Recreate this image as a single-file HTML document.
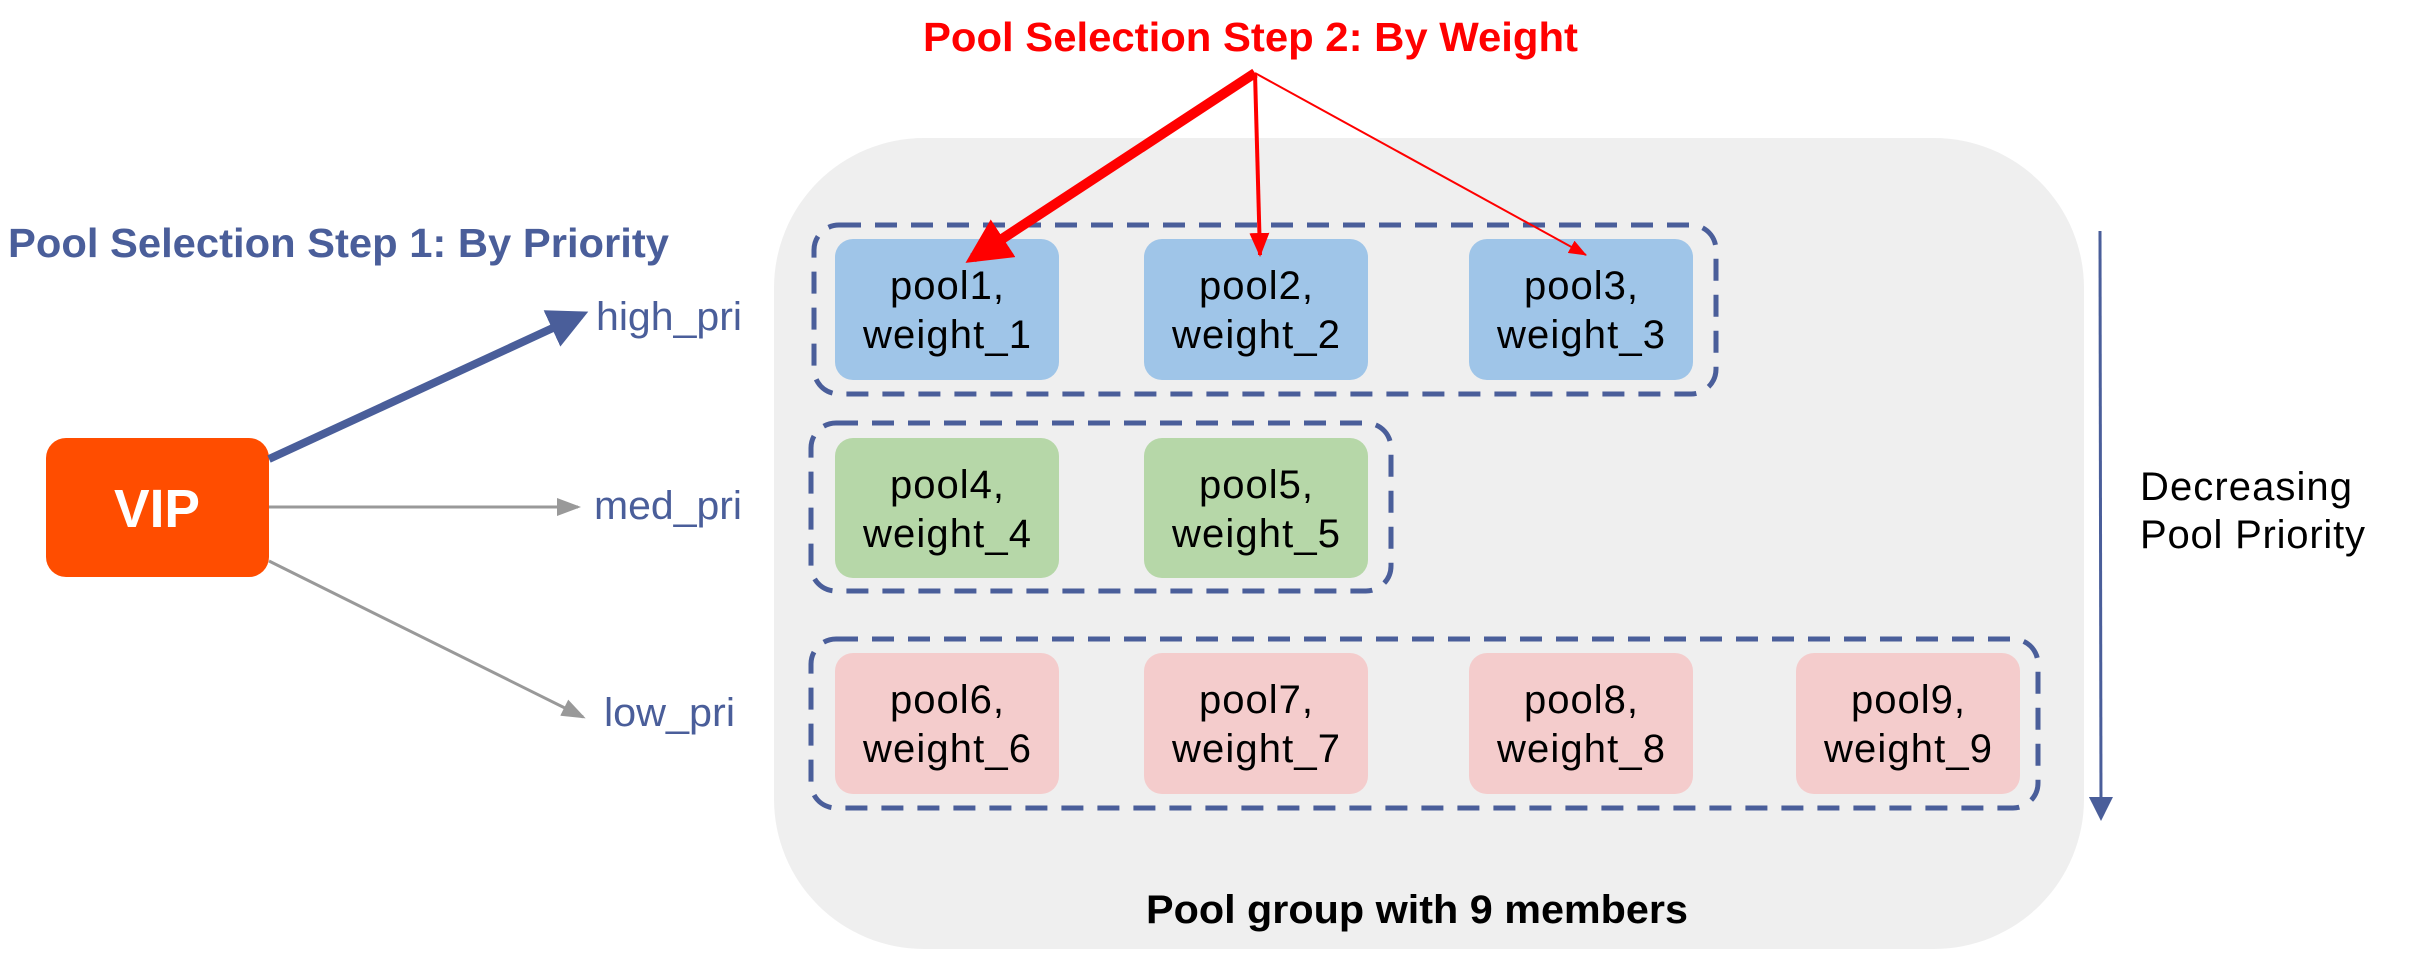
<!DOCTYPE html>
<html><head><meta charset="utf-8"><style>html,body{margin:0;padding:0;background:#fff}svg{display:block}</style></head>
<body>
<svg width="2410" height="954" viewBox="0 0 2410 954" xmlns="http://www.w3.org/2000/svg" font-family="Liberation Sans, Arial, sans-serif">
<defs>
<marker id="hb" markerWidth="5" markerHeight="5" refX="4" refY="2.5" orient="auto" markerUnits="strokeWidth"><path d="M0,0 L5,2.5 L0,5 Z" fill="#4A5E9A"/></marker>
<marker id="hg" markerWidth="8" markerHeight="6" refX="7" refY="3" orient="auto" markerUnits="strokeWidth"><path d="M0,0 L8,3 L0,6 Z" fill="#999"/></marker>
<marker id="hr" markerWidth="4.5" markerHeight="4.5" refX="3.6" refY="2.25" orient="auto" markerUnits="strokeWidth"><path d="M0,0 L4.5,2.25 L0,4.5 Z" fill="#FF0000"/></marker>
<marker id="hr2" markerWidth="6" markerHeight="5" refX="5.5" refY="2.5" orient="auto" markerUnits="strokeWidth"><path d="M0,0 L6,2.5 L0,5 Z" fill="#FF0000"/></marker>
<marker id="hr3" markerWidth="9" markerHeight="7" refX="8.5" refY="3.5" orient="auto" markerUnits="strokeWidth"><path d="M0,0 L9,3.5 L0,7 Z" fill="#FF0000"/></marker>
<marker id="hv" markerWidth="8" markerHeight="8" refX="7" refY="4" orient="auto" markerUnits="strokeWidth"><path d="M0,0 L8,4 L0,8 Z" fill="#4A5E9A"/></marker>
</defs>

<rect x="774" y="138" width="1310" height="811" rx="150" fill="#EFEFEF"/>

<text x="8" y="257" font-size="41" font-weight="bold" fill="#4A5E9A" textLength="661" lengthAdjust="spacingAndGlyphs">Pool Selection Step 1: By Priority</text>
<text x="923" y="51" font-size="41" font-weight="bold" fill="#FF0000" textLength="655" lengthAdjust="spacingAndGlyphs">Pool Selection Step 2: By Weight</text>

<rect x="46" y="438" width="223" height="139" rx="20" fill="#FF4D00"/>
<text x="157" y="527" font-size="54" font-weight="bold" fill="#fff" text-anchor="middle" textLength="86" lengthAdjust="spacingAndGlyphs">VIP</text>

<line x1="269" y1="459" x2="581" y2="315" stroke="#4A5E9A" stroke-width="8" marker-end="url(#hb)"/>
<line x1="269" y1="507" x2="578" y2="507" stroke="#999" stroke-width="3" marker-end="url(#hg)"/>
<line x1="269" y1="561" x2="583" y2="717" stroke="#999" stroke-width="3" marker-end="url(#hg)"/>

<g font-size="40" fill="#4A5E9A">
<text x="596" y="330" textLength="146" lengthAdjust="spacingAndGlyphs">high_pri</text>
<text x="594" y="519" textLength="148" lengthAdjust="spacingAndGlyphs">med_pri</text>
<text x="604" y="726" textLength="131" lengthAdjust="spacingAndGlyphs">low_pri</text>
</g>

<g fill="none" stroke="#4A5E9A" stroke-width="5" stroke-dasharray="22,14">
<rect x="814" y="225" width="902" height="169" rx="25"/>
<rect x="811" y="423" width="580" height="168" rx="25"/>
<rect x="811" y="639" width="1227" height="169" rx="25"/>
</g>

<g>
<rect x="835" y="239" width="224" height="141" rx="18" fill="#9FC5E8"/>
<rect x="1144" y="239" width="224" height="141" rx="18" fill="#9FC5E8"/>
<rect x="1469" y="239" width="224" height="141" rx="18" fill="#9FC5E8"/>
<rect x="835" y="438" width="224" height="140" rx="18" fill="#B6D7A8"/>
<rect x="1144" y="438" width="224" height="140" rx="18" fill="#B6D7A8"/>
<rect x="835" y="653" width="224" height="141" rx="18" fill="#F4CCCC"/>
<rect x="1144" y="653" width="224" height="141" rx="18" fill="#F4CCCC"/>
<rect x="1469" y="653" width="224" height="141" rx="18" fill="#F4CCCC"/>
<rect x="1796" y="653" width="224" height="141" rx="18" fill="#F4CCCC"/>
</g>
<g font-size="40" fill="#000" text-anchor="middle" lengthAdjust="spacingAndGlyphs">
<text x="947" y="299" textLength="114">pool1,</text><text x="947" y="348" textLength="168">weight_1</text>
<text x="1256" y="299" textLength="114">pool2,</text><text x="1256" y="348" textLength="168">weight_2</text>
<text x="1581" y="299" textLength="114">pool3,</text><text x="1581" y="348" textLength="168">weight_3</text>
<text x="947" y="498" textLength="114">pool4,</text><text x="947" y="547" textLength="168">weight_4</text>
<text x="1256" y="498" textLength="114">pool5,</text><text x="1256" y="547" textLength="168">weight_5</text>
<text x="947" y="713" textLength="114">pool6,</text><text x="947" y="762" textLength="168">weight_6</text>
<text x="1256" y="713" textLength="114">pool7,</text><text x="1256" y="762" textLength="168">weight_7</text>
<text x="1581" y="713" textLength="114">pool8,</text><text x="1581" y="762" textLength="168">weight_8</text>
<text x="1908" y="713" textLength="114">pool9,</text><text x="1908" y="762" textLength="168">weight_9</text>
</g>

<line x1="1255" y1="73" x2="973" y2="258" stroke="#FF0000" stroke-width="10" marker-end="url(#hr)"/>
<line x1="1255" y1="73" x2="1260" y2="255" stroke="#FF0000" stroke-width="4" marker-end="url(#hr2)"/>
<line x1="1255" y1="73" x2="1586" y2="255" stroke="#FF0000" stroke-width="2" marker-end="url(#hr3)"/>

<line x1="2100" y1="231" x2="2101" y2="818" stroke="#4A5E9A" stroke-width="3" marker-end="url(#hv)"/>
<g font-size="40" fill="#000" lengthAdjust="spacingAndGlyphs">
<text x="2140" y="500" textLength="212">Decreasing</text>
<text x="2140" y="548" textLength="225">Pool Priority</text>
</g>

<text x="1146" y="923" font-size="40" font-weight="bold" fill="#000" textLength="542" lengthAdjust="spacingAndGlyphs">Pool group with 9 members</text>
</svg>
</body></html>
